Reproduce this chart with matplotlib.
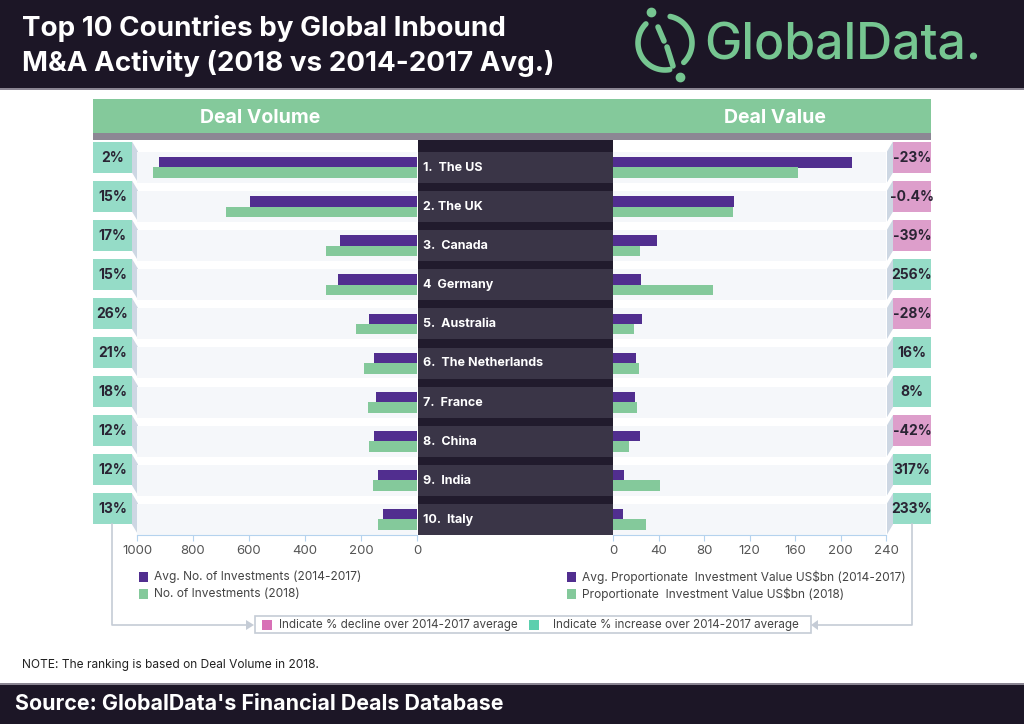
import numpy as np
import matplotlib.pyplot as plt
from matplotlib.patches import Rectangle, Polygon

plt.rcParams['font.family'] = ['Inter', 'DejaVu Sans']

# data
countries = ['1.  The US', '2. The UK', '3.  Canada', '4  Germany', '5.  Australia',
             '6.  The Netherlands', '7.  France', '8.  China', '9.  India', '10.  Italy']
vol_avg = [923, 596, 276, 282, 173, 154, 148, 153, 140, 123]
vol_2018 = [943, 683, 324, 324, 219, 188, 175, 171, 156, 139]
val_avg = [210, 106, 38.4, 24.7, 25.2, 20.0, 19.4, 24.0, 9.9, 8.6]
val_2018 = [162.6, 105.6, 23.4, 88.0, 18.1, 23.2, 21.0, 13.9, 41.3, 28.6]
vol_chg = ['2%', '15%', '17%', '15%', '26%', '21%', '18%', '12%', '12%', '13%']
val_chg = ['-23%', '-0.4%', '-39%', '256%', '-28%', '16%', '8%', '-42%', '317%', '233%']
vol_ticks = [0, 200, 400, 600, 800, 1000]
val_ticks = [0, 40, 80, 120, 160, 200, 240]

# colours
dark = '#1c1626'
purple = '#512e8f'
green = '#84c99b'
teal_badge = '#95dcc7'
pink_badge = '#dd9ecb'
side = '#cdd7e3'
band = '#f5f7fa'
axis_col = '#b5d3ee'
grey_line = '#c5ccd6'

W, H = 1024, 724
fig = plt.figure(figsize=(W / 100, H / 100), dpi=100)
bg = fig.add_axes([0, 0, 1, 1], zorder=0)
bg.set_xlim(0, W)
bg.set_ylim(H, 0)
bg.axis('off')


def fpos(x0, y0, x1, y1):
    return [x0 / W, 1 - y1 / H, (x1 - x0) / W, (y1 - y0) / H]


def rect(x, y, w, h, c, **kw):
    bg.add_patch(Rectangle((x, y), w, h, facecolor=c, edgecolor=kw.pop('ec', 'none'), **kw))


# header
rect(0, 0, W, 88, dark)
rect(0, 88, W, 2, '#8a8592')
bg.text(22, 36, 'Top 10 Countries by Global Inbound', color='white', fontsize=20,
        fontweight='bold', va='baseline')
bg.text(22, 71, 'M&A Activity (2018 vs 2014-2017 Avg.)', color='white', fontsize=20,
        fontweight='bold', va='baseline')

# logo
logo = '#76c691'
cx, cy, r = 665, 43, 27
t = np.radians(np.linspace(135, 280, 60))
bg.plot(cx + r * np.cos(t), cy - r * np.sin(t), color=logo, lw=4, solid_capstyle='round')
t = np.radians(np.linspace(-46, 79, 60))
bg.plot(cx + r * np.cos(t), cy - r * np.sin(t), color=logo, lw=4, solid_capstyle='round')
bg.plot([658, 664], [27, 41], color=logo, lw=4, solid_capstyle='round')
bg.plot([667, 673], [47, 66], color=logo, lw=4, solid_capstyle='round')
bg.plot([651, 680], [12, 77], 'o', color=logo, ms=6)
bg.text(704, 60, 'GlobalData.', color=logo, fontsize=36, va='baseline', fontweight='medium')

# section header
rect(93, 99, 838, 34, green)
rect(93, 133, 838, 7, '#8c8794')
bg.text(260, 123, 'Deal Volume', color='white', fontsize=14, fontweight='bold',
        ha='center', va='baseline')
bg.text(775, 123, 'Deal Value', color='white', fontsize=14, fontweight='bold',
        ha='center', va='baseline')

# middle column with country names
pitch = 39.1
rect(418, 140, 195, 395, '#211b2d')
for i, name in enumerate(countries):
    top = 140 + pitch * i
    rect(418, top + 12, 195, 31, '#3a3547')
    bg.text(423, top + 31, name, color='white', fontsize=9, fontweight='bold', va='baseline')

    # badges
    tb = top + 1.5
    rect(93, tb, 39, 31, teal_badge)
    bg.add_patch(Polygon([(132, tb), (138, tb + 10), (138, tb + 41), (132, tb + 31)],
                         facecolor=side, edgecolor='none'))
    bg.text(112.5, tb + 20, vol_chg[i], color='#2a2434', fontsize=10, fontweight='bold',
            ha='center', va='baseline')
    col = pink_badge if val_chg[i].startswith('-') else teal_badge
    rect(893, tb, 38, 31, col)
    bg.add_patch(Polygon([(893, tb), (887, tb + 10), (887, tb + 41), (893, tb + 31)],
                         facecolor=side, edgecolor='none'))
    bg.text(912, tb + 20, val_chg[i], color='#2a2434', fontsize=10, fontweight='bold',
            ha='center', va='baseline')

# bar axes
rows = np.arange(len(countries))
ax_l = fig.add_axes(fpos(137, 140, 417, 535), zorder=1)
ax_r = fig.add_axes(fpos(613, 140, 886, 535), zorder=1)
for ax, a, b, lim, ticks in [(ax_l, vol_avg, vol_2018, (1000, 0), vol_ticks),
                             (ax_r, val_avg, val_2018, (0, 240), val_ticks)]:
    ax.set_facecolor('none')
    for i in rows:
        ax.axhspan(i - 0.396, i + 0.396, color=band, lw=0, zorder=0)
    ax.barh(rows - 0.13, a, height=0.27, color=purple, zorder=2)
    ax.barh(rows + 0.135, b, height=0.27, color=green, zorder=2)
    ax.set_xlim(*lim)
    ax.set_ylim(9.4, -0.703)
    ax.set_xticks(ticks)
    ax.set_yticks([])
    for s in ['top', 'left', 'right']:
        ax.spines[s].set_visible(False)
    ax.spines['bottom'].set_color(axis_col)
    ax.tick_params(axis='x', colors=axis_col, length=4, labelcolor='#555555', labelsize=9.5, pad=3)

# legends
for x, labels in [(139, ['Avg. No. of Investments (2014-2017)', 'No. of Investments (2018)']),
                  (567, ['Avg. Proportionate  Investment Value US$bn (2014-2017)',
                         'Proportionate  Investment Value US$bn (2018)'])]:
    for y, c, lab in zip([577, 594], [purple, green], labels):
        rect(x, y - 5, 9, 10, c)
        bg.text(x + 15, y, lab, color='#444444', fontsize=8.6, va='center')

# indicator box with connectors
bg.plot([112, 112, 246], [524, 625, 625], color=grey_line, lw=1.2)
bg.plot([912, 912, 818], [524, 625, 625], color=grey_line, lw=1.2)
bg.add_patch(Polygon([(246, 620), (254, 625), (246, 630)], facecolor=grey_line, edgecolor='none'))
bg.add_patch(Polygon([(818, 620), (811, 625), (818, 630)], facecolor=grey_line, edgecolor='none'))
rect(255, 616, 556, 17, 'white', ec=grey_line, lw=1.2)
rect(262, 620, 10, 10, '#d870b6')
bg.text(279, 625, 'Indicate % decline over 2014-2017 average', color='#444444', fontsize=8.4, va='center')
rect(529, 620, 10, 10, '#5ccfae')
bg.text(553, 625, 'Indicate % increase over 2014-2017 average', color='#444444', fontsize=8.4, va='center')

# note and footer
bg.text(22, 665, 'NOTE: The ranking is based on Deal Volume in 2018.', color='#222222',
        fontsize=8.6, va='center')
rect(0, 683, W, 2, '#8a8592')
rect(0, 685, W, 39, dark)
bg.text(15, 710, "Source: GlobalData's Financial Deals Database", color='white', fontsize=15.4,
        fontweight='bold', va='baseline')

fig.savefig('out.png', dpi=100)
